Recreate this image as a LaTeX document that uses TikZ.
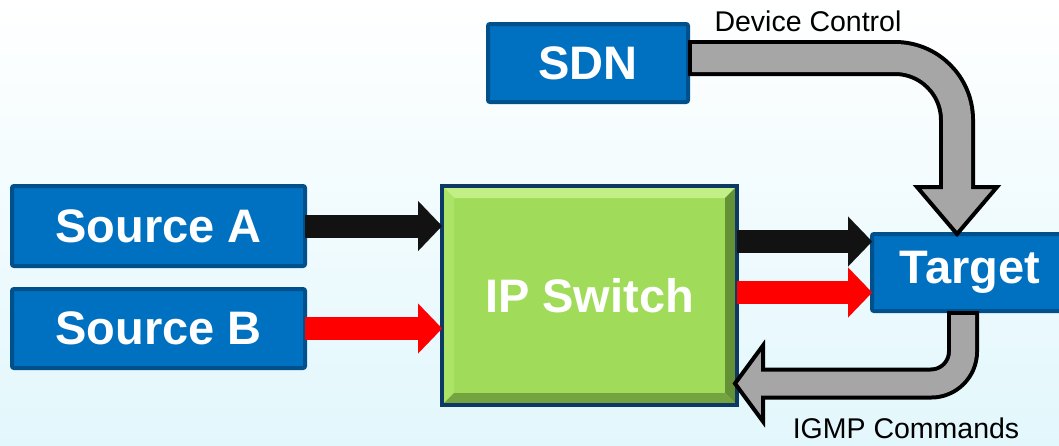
\documentclass[tikz,border=0pt]{standalone}
\usepackage{fontspec}
\setmainfont{Liberation Sans}
\usetikzlibrary{arrows.meta,calc,positioning}

\definecolor{boxblue}{RGB}{0,112,192}
\definecolor{boxedge}{RGB}{0,80,140}
\definecolor{swgreen}{RGB}{160,220,90}
\definecolor{swedge}{RGB}{12,58,100}
\definecolor{bevlight}{RGB}{194,240,134}
\definecolor{bevside}{RGB}{172,228,104}
\definecolor{bevdark}{RGB}{100,144,54}
\definecolor{bevbottom}{RGB}{116,164,64}
\definecolor{pipegray}{RGB}{166,166,166}
\definecolor{flowblack}{RGB}{18,18,18}
\definecolor{flowred}{RGB}{255,0,0}
\definecolor{bgcyan}{RGB}{226,247,252}

\tikzset{
  unitbox/.style={draw=boxedge, fill=boxblue, line width=4pt, rounded corners=2pt,
    text=white, font=\fontsize{47}{50}\selectfont\bfseries,
    inner sep=0pt, outer sep=0pt},
  swbox/.style={draw=swedge, fill=swgreen, line width=4.5pt,
    text=white, font=\fontsize{47}{50}\selectfont\bfseries,
    inner sep=0pt, outer sep=0pt,
    % bevelled edge inside the switch
    path picture={
      \coordinate (nw) at (path picture bounding box.north west);
      \coordinate (ne) at (path picture bounding box.north east);
      \coordinate (sw) at (path picture bounding box.south west);
      \coordinate (se) at (path picture bounding box.south east);
      \fill[bevlight] (nw) -- (ne) -- ([shift={(-12pt,-12pt)}]ne) -- ([shift={(12pt,-12pt)}]nw) -- cycle;
      \fill[bevside] (nw) -- (sw) -- ([shift={(12pt,12pt)}]sw) -- ([shift={(12pt,-12pt)}]nw) -- cycle;
      \fill[bevdark] (ne) -- (se) -- ([shift={(-12pt,12pt)}]se) -- ([shift={(-12pt,-12pt)}]ne) -- cycle;
      \fill[bevbottom] (sw) -- (se) -- ([shift={(-12pt,12pt)}]se) -- ([shift={(12pt,12pt)}]sw) -- cycle;
    }},
  flow/.style={line width=23pt, -{Triangle[length=24pt,width=50pt,line width=0.1pt]}},
  pipe/.style={line width=#1, line cap=butt},
  pipehead/.style={fill=pipegray, draw=black, line width=4pt, line join=miter},
  note/.style={font=\fontsize{28.5}{30}\selectfont, text=black, inner sep=0pt}
}

\begin{document}
\begin{tikzpicture}[x=1pt,y=-1pt]
  % page and soft background
  \useasboundingbox (0,0) rectangle (1059,445);
  \shade[top color=white, bottom color=bgcyan] (0,0) rectangle (1059,445);

  % units
  \node[unitbox, minimum width=293pt, minimum height=80pt] (srcA) at (158.5,226) {Source A};
  \node[unitbox, minimum width=293pt, minimum height=79pt, below=23pt of srcA] (srcB) {Source B};
  \node[swbox, minimum width=295pt, minimum height=219pt] (ipsw) at (589.5,295.5) {IP Switch};
  \node[unitbox, minimum width=200pt, minimum height=78pt] (sdn) at (588,63) {SDN};
  \node[unitbox, minimum width=196pt, minimum height=77pt] (target) at (970,272.5) {Target};

  % streams
  \draw[flow, draw=flowblack] (srcA.east) -- (srcA.east -| ipsw.west);
  \draw[flow, draw=flowred] (srcB.east) -- (srcB.east -| ipsw.west);
  \draw[flow, draw=flowblack] ([yshift=31pt]target.west -| ipsw.east) -- ([yshift=31pt]target.west);
  \draw[flow, draw=flowred] ([yshift=-20pt]target.west -| ipsw.east) -- ([yshift=-20pt]target.west);

  % device control, SDN to target
  \coordinate (dcStart) at ([yshift=5pt]sdn.east);
  \coordinate (dcTip) at ([xshift=-13pt]target.north);
  \coordinate (dcBase) at ($(dcTip)+(0,-47)$);
  \draw[pipe=36pt, black, rounded corners=62pt] (dcStart) -| (dcBase);
  \draw[pipehead] ($(dcBase)+(-40,0)$) -- ($(dcBase)+(40,0)$) -- (dcTip) -- cycle;
  \draw[pipe=28pt, pipegray, rounded corners=62pt] ($(dcStart)+(4,0)$) -| ($(dcBase)+(0,4)$);
  \node[note] (dcLabel) at (808,21) {Device Control};

  % IGMP commands, target back to switch
  \coordinate (igStart) at ([xshift=-7pt]target.south);
  \coordinate (igTip) at ($(ipsw.east)+(-2,88)$);
  \coordinate (igBase) at ($(igTip)+(28,0)$);
  \draw[pipe=32pt, black, rounded corners=32pt] (igStart) |- (igBase);
  \draw[pipehead] ($(igBase)+(0,-38)$) -- ($(igBase)+(0,38)$) -- (igTip) -- cycle;
  \draw[pipe=24pt, pipegray, rounded corners=32pt] ($(igStart)+(0,4)$) |- ($(igBase)+(-4,0)$);
  \node[note] (igLabel) at (906,428.5) {IGMP Commands};
\end{tikzpicture}
\end{document}
